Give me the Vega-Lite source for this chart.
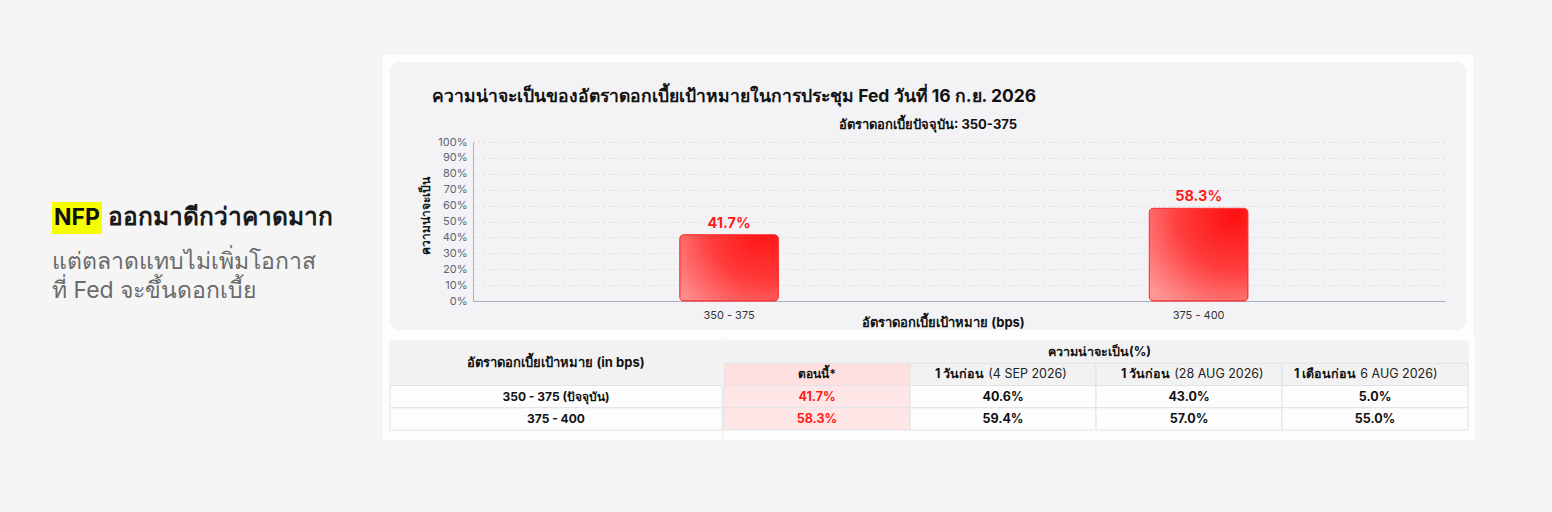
{
  "$schema": "https://vega.github.io/schema/vega-lite/v6.json",
  "background": "#f5f5f5",
  "padding": {"left": 52, "top": 55, "right": 79, "bottom": 72},
  "autosize": {"type": "pad"},
  "config": {
    "view": {"stroke": null},
    "font": "Inter, 'Noto Sans', sans-serif",
    "text": {"font": "Inter, 'Noto Sans', sans-serif"},
    "title": {"font": "Inter, 'Noto Sans', sans-serif"},
    "axis": {"labelFont": "Inter, 'Noto Sans', sans-serif", "titleFont": "Inter, 'Noto Sans', sans-serif"}
  },
  "datasets": {
    "bars": [
      {"range": "350 - 375", "prob": 0.417},
      {"range": "375 - 400", "prob": 0.583}
    ],
    "cols": [
      {"col": "now", "bold": "ตอนนี้*", "reg": ""},
      {"col": "d1", "bold": "1 วันก่อน", "reg": "(4 SEP 2026)"},
      {"col": "w1", "bold": "1 วันก่อน", "reg": "(28 AUG 2026)"},
      {"col": "m1", "bold": "1 เดือนก่อน", "reg": "6 AUG 2026)"}
    ],
    "rates": [
      {"rate": "350 - 375", "label": "350 - 375 (ปัจจุบัน)"},
      {"rate": "375 - 400", "label": "375 - 400"}
    ],
    "cells": [
      {"rate": "350 - 375", "col": "now", "prob": 0.417},
      {"rate": "350 - 375", "col": "d1", "prob": 0.406},
      {"rate": "350 - 375", "col": "w1", "prob": 0.43},
      {"rate": "350 - 375", "col": "m1", "prob": 0.05},
      {"rate": "375 - 400", "col": "now", "prob": 0.583},
      {"rate": "375 - 400", "col": "d1", "prob": 0.594},
      {"rate": "375 - 400", "col": "w1", "prob": 0.57},
      {"rate": "375 - 400", "col": "m1", "prob": 0.55}
    ]
  },
  "spacing": 21,
  "hconcat": [
    {
      "spacing": 0,
      "vconcat": [
        {
          "width": 310, "height": 147,
          "data": {"values": [{"t": ""}]},
          "mark": {"type": "text"},
          "encoding": {"text": {"field": "t"}}
        },
        {
          "spacing": 0,
          "hconcat": [
            {
              "width": 50, "height": 32,
              "view": {"fill": "#f5ff00"},
              "data": {"values": [{"t": "NFP"}]},
              "mark": {"type": "text", "fontSize": 23, "fontWeight": "bold", "color": "#111111"},
              "encoding": {"text": {"field": "t"}}
            },
            {
              "width": 260, "height": 32,
              "data": {"values": [{"t": "ออกมาดีกว่าคาดมาก", "k": "a"}]},
              "mark": {"type": "text", "align": "left", "dx": 6, "fontSize": 24.5, "fontWeight": "bold", "color": "#1a1a1a"},
              "encoding": {
                "text": {"field": "t"},
                "x": {"field": "k", "type": "nominal", "scale": {"type": "point", "padding": 0, "align": 0}, "axis": null}
              }
            }
          ]
        },
        {
          "width": 310, "height": 85,
          "data": {"values": [
            {"t": "แต่ตลาดแทบไม่เพิ่มโอกาส", "line": "2", "k": "a"},
            {"t": "ที่ Fed จะขึ้นดอกเบี้ย", "line": "3", "k": "a"}
          ]},
          "mark": {"type": "text", "align": "left", "fontSize": 23, "color": "#6b6b6b"},
          "encoding": {
            "text": {"field": "t"},
            "x": {"field": "k", "type": "nominal", "scale": {"type": "point", "padding": 0, "align": 0}, "axis": null},
            "y": {"field": "line", "type": "nominal", "scale": {"type": "point", "padding": 0.966}, "axis": null}
          }
        }
      ]
    },
    {
      "spacing": 0,
      "vconcat": [
        {
          "width": 1090, "height": 282,
          "view": {"fill": "#f3f3f5", "stroke": null},
          "title": {
            "text": "ความน่าจะเป็นของอัตราดอกเบี้ยเป้าหมายในการประชุม Fed วันที่ 16 ก.ย. 2026",
            "anchor": "start", "dx": 49, "offset": -50,
            "fontSize": 17.5, "fontWeight": "bold", "color": "#111111"
          },
          "resolve": {"scale": {"x": "independent", "y": "independent"}},
          "layer": [
            {
              "data": {"values": [{"k": "frame"}]},
              "mark": {"type": "rect", "fill": "transparent", "stroke": "#fdfdfd", "strokeWidth": 14, "cornerRadius": 17, "clip": true},
              "encoding": {}
            },
            {
              "data": {"name": "bars"},
              "layer": [
                {
                  "mark": {
                    "type": "bar", "cornerRadius": 4, "stroke": "#ff2a2a", "strokeWidth": 1,
                    "fill": {"gradient": "radial", "x1": 0.85, "y1": 0.1, "x2": 0.85, "y2": 0.1, "r1": 0, "r2": 1.1,
                      "stops": [{"offset": 0, "color": "#ff1010"}, {"offset": 0.5, "color": "#ff3c3c"}, {"offset": 1, "color": "#ff9494"}]}
                  },
                  "encoding": {
                    "x": {
                      "field": "range", "type": "nominal",
                      "scale": {"range": [90, 1062], "paddingInner": 0.79, "paddingOuter": 0.43, "align": 0.512},
                      "axis": {
                        "offset": -36, "ticks": false, "labelAngle": 0, "labelFontSize": 11, "labelColor": "#333333", "labelPadding": 8,
                        "domainColor": "#a9b1c1", "grid": false,
                        "title": "อัตราดอกเบี้ยเป้าหมาย (bps)", "titleFontSize": 13, "titleFontWeight": "bold", "titleColor": "#111111",
                        "titleX": 560, "titleY": 21, "titleAlign": "center", "titleBaseline": "middle"
                      }
                    },
                    "y": {
                      "field": "prob", "type": "quantitative",
                      "scale": {"domain": [0, 1], "range": [246, 87]},
                      "axis": {
                        "offset": -90, "format": ".0%", "values": [0, 0.1, 0.2, 0.3, 0.4, 0.5, 0.6, 0.7, 0.8, 0.9, 1], "tickCount": 11,
                        "labelOverlap": false, "labelFlush": false,
                        "ticks": false, "labelPadding": 6, "labelFontSize": 11, "labelColor": "#5c6479",
                        "domainColor": "#a9b1c1", "grid": true, "gridDash": [1, 4], "gridColor": "#c6c8d1",
                        "title": "ความน่าจะเป็น", "titleFontSize": 12, "titleFontWeight": "bold", "titleColor": "#111111",
                        "titleX": -48, "titleY": 160, "titleAngle": 270, "titleAlign": "center", "titleBaseline": "middle"
                      }
                    }
                  }
                },
                {
                  "mark": {"type": "text", "baseline": "alphabetic", "dy": -7, "fontSize": 14.5, "fontWeight": "bold", "color": "#ff1a1a"},
                  "encoding": {
                    "x": {"field": "range", "type": "nominal"},
                    "y": {"field": "prob", "type": "quantitative"},
                    "text": {"field": "prob", "format": ".1%"}
                  }
                },
                {
                  "data": {"values": [{"t": "อัตราดอกเบี้ยปัจจุบัน: 350-375"}]},
                  "mark": {"type": "text", "fontSize": 13, "fontWeight": "bold", "color": "#111111"},
                  "encoding": {
                    "text": {"field": "t"},
                    "y": {"datum": 1.107, "type": "quantitative"}
                  }
                }
              ]
            }
          ]
        },
        {
          "spacing": 0,
          "hconcat": [
            {
              "width": 339, "height": 103,
              "view": {"fill": "#fdfdfd"},
              "encoding": {
                "x": {"datum": "c0", "type": "nominal", "scale": {"domain": ["c0"], "paddingInner": 0, "paddingOuter": 0.0105, "align": 1}, "axis": null}
              },
              "layer": [
                {
                  "data": {"values": [{"h": "h1"}, {"h": "h2"}]},
                  "mark": {"type": "rect", "fill": "#f2f2f3", "stroke": "#f2f2f3", "strokeWidth": 1},
                  "encoding": {
                    "y": {"field": "h", "type": "nominal", "scale": {"domain": ["h1", "h2", "350 - 375", "375 - 400"], "paddingInner": 0, "paddingOuter": 0.315, "align": 0.286}, "axis": null}
                  }
                },
                {
                  "data": {"name": "rates"},
                  "mark": {"type": "rect", "fill": "#fdfdfd", "stroke": "#e2e2e6", "strokeWidth": 1},
                  "encoding": {
                    "y": {"field": "rate", "type": "nominal"}
                  }
                },
                {
                  "data": {"values": [{"t": "อัตราดอกเบี้ยเป้าหมาย (in bps)", "h": "h2"}]},
                  "mark": {"type": "text", "fontSize": 13, "fontWeight": "bold", "color": "#111111"},
                  "encoding": {
                    "y": {"field": "h", "type": "nominal", "bandPosition": 0},
                    "text": {"field": "t"}
                  }
                },
                {
                  "data": {"name": "rates"},
                  "mark": {"type": "text", "fontSize": 12, "fontWeight": "bold", "color": "#111111"},
                  "encoding": {
                    "y": {"field": "rate", "type": "nominal"},
                    "text": {"field": "label"}
                  }
                }
              ]
            },
            {
              "width": 751, "height": 103,
              "view": {"fill": "#fdfdfd"},
              "encoding": {
                "x": {"field": "col", "type": "nominal", "scale": {"domain": ["now", "d1", "w1", "m1"], "paddingInner": 0, "paddingOuter": 0.0188, "align": 0}, "axis": null}
              },
              "layer": [
                {
                  "data": {"name": "cols"},
                  "mark": {"type": "rect", "fill": "#f2f2f3", "stroke": "#f2f2f3", "strokeWidth": 1},
                  "encoding": {
                    "y": {"datum": "h1", "type": "nominal", "scale": {"domain": ["h1", "h2", "350 - 375", "375 - 400"], "paddingInner": 0, "paddingOuter": 0.315, "align": 0.286}, "axis": null}
                  }
                },
                {
                  "data": {"name": "cols"},
                  "mark": {"type": "rect", "stroke": "#e2e2e6", "strokeWidth": 1},
                  "encoding": {
                    "y": {"datum": "h2", "type": "nominal"},
                    "color": {"condition": {"test": "datum.col === 'now'", "value": "#ffe0e0"}, "value": "#f2f2f3"}
                  }
                },
                {
                  "data": {"name": "cells"},
                  "mark": {"type": "rect", "stroke": "#e2e2e6", "strokeWidth": 1},
                  "encoding": {
                    "y": {"field": "rate", "type": "nominal"},
                    "color": {"condition": {"test": "datum.col === 'now'", "value": "#ffe6e6"}, "value": "#fdfdfd"}
                  }
                },
                {
                  "data": {"name": "cols"},
                  "transform": [{"filter": "datum.col !== 'now'"}],
                  "mark": {"type": "text", "align": "right", "dx": -2, "fontSize": 12.5, "fontWeight": "bold", "color": "#111111"},
                  "encoding": {
                    "x": {"field": "col", "type": "nominal", "bandPosition": 0.41},
                    "y": {"datum": "h2", "type": "nominal"},
                    "text": {"field": "bold"}
                  }
                },
                {
                  "data": {"name": "cols"},
                  "transform": [{"filter": "datum.col !== 'now'"}],
                  "mark": {"type": "text", "align": "left", "dx": 2, "fontSize": 12.5, "color": "#222222"},
                  "encoding": {
                    "x": {"field": "col", "type": "nominal", "bandPosition": 0.41},
                    "y": {"datum": "h2", "type": "nominal"},
                    "text": {"field": "reg"}
                  }
                },
                {
                  "data": {"name": "cols"},
                  "transform": [{"filter": "datum.col === 'now'"}],
                  "mark": {"type": "text", "fontSize": 12, "fontWeight": "bold", "color": "#111111"},
                  "encoding": {
                    "y": {"datum": "h2", "type": "nominal"},
                    "text": {"field": "bold"}
                  }
                },
                {
                  "data": {"values": [{"t": "ความน่าจะเป็น(%)"}]},
                  "mark": {"type": "text", "fontSize": 12.5, "fontWeight": "bold", "color": "#111111"},
                  "encoding": {
                    "x": null,
                    "y": {"datum": "h1", "type": "nominal"},
                    "text": {"field": "t"}
                  }
                },
                {
                  "data": {"name": "cells"},
                  "mark": {"type": "text", "fontSize": 12.5, "fontWeight": "bold"},
                  "encoding": {
                    "y": {"field": "rate", "type": "nominal"},
                    "text": {"field": "prob", "format": ".1%"},
                    "color": {"condition": {"test": "datum.col === 'now'", "value": "#ff1a1a"}, "value": "#111111"}
                  }
                }
              ]
            }
          ]
        }
      ]
    }
  ]
}
